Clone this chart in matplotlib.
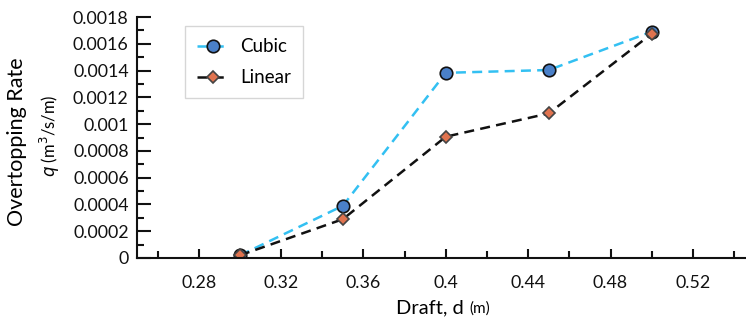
import numpy as np
import matplotlib.pyplot as plt
from matplotlib.ticker import MultipleLocator, FixedLocator, FuncFormatter

plt.rcParams['font.family'] = ['Lato', 'DejaVu Sans']

# Datos
draft = [0.30, 0.35, 0.40, 0.45, 0.50]
q_cubic = [0.00002, 0.00039, 0.001383, 0.001404, 0.00169]
q_linear = [0.00002, 0.00029, 0.000906, 0.00108, 0.001675]

xticks_major = [0.28, 0.32, 0.36, 0.40, 0.44, 0.48, 0.52]
xtick_labels = ['0.28', '0.32', '0.36', '0.4', '0.44', '0.48', '0.52']

fig = plt.figure(figsize=(7.46, 3.2), dpi=100)
ax = fig.add_axes([137 / 746, 62 / 320, 1 - 137 / 746, (258 - 17) / 320])

ax.plot(draft, q_cubic, linestyle=(0, (4, 2.5)), color='#33C0F2', linewidth=1.8,
        marker='o', markersize=9, markerfacecolor='#4A80C8', markeredgecolor='#111111',
        markeredgewidth=1.2, label='Cubic')
ax.plot(draft, q_linear, linestyle=(0, (4, 2.5)), color='#111111', linewidth=1.8,
        marker='D', markersize=6.5, markerfacecolor='#E0734F', markeredgecolor='#444444',
        markeredgewidth=1.2, label='Linear')

ax.set_xlim(0.25, 0.5458)
ax.set_ylim(0, 0.0018)

ax.xaxis.set_major_locator(FixedLocator(xticks_major))
ax.set_xticklabels(xtick_labels)
ax.xaxis.set_minor_locator(MultipleLocator(0.04, offset=0.02))
ax.yaxis.set_major_locator(MultipleLocator(0.0002))
ax.yaxis.set_minor_locator(MultipleLocator(0.0001))
ax.yaxis.set_major_formatter(FuncFormatter(lambda v, p: '0' if v == 0 else ('%.4f' % v).rstrip('0')))

ax.tick_params(axis='both', which='both', direction='in', width=1.5, labelsize=12.8,
               colors='#111111')
ax.tick_params(axis='y', which='major', length=10, pad=6)
ax.tick_params(axis='y', which='minor', length=5)
ax.tick_params(axis='x', which='major', length=6.5, pad=12)
ax.tick_params(axis='x', which='minor', length=5)

for s in ['top', 'right']:
    ax.spines[s].set_visible(False)
for s in ['left', 'bottom']:
    ax.spines[s].set_linewidth(1.5)
    ax.spines[s].set_color('#111111')

# Etiquetas de ejes
fig.text(464 / 746, 1 - 308 / 320, 'Draft, d', fontsize=14.5, ha='right', va='center')
fig.text(469 / 746, 1 - 309 / 320, '(m)', fontsize=11, ha='left', va='center')

fig.text(17 / 746, 1 - 142 / 320, 'Overtopping Rate', fontsize=15.5, rotation=90,
         ha='center', va='center')
fig.text(50 / 746, 1 - 136 / 320, '$q$ (m$^{3}$/s/m)', fontsize=12, rotation=90,
         ha='center', va='center')

leg = ax.legend(loc='upper left', bbox_to_anchor=(48 / 609, (258 - 26) / 241),
                borderaxespad=0, fontsize=13.5, frameon=True, fancybox=False,
                edgecolor='#CCCCCC', handlelength=1.7, handletextpad=0.6,
                borderpad=0.65, labelspacing=0.75)
leg.get_frame().set_linewidth(1.0)

fig.savefig('out.png', dpi=100)
